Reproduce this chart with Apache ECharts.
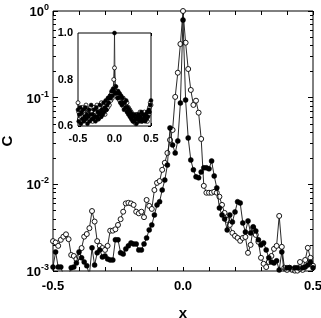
<!DOCTYPE html>
<html>
<head>
<meta charset="utf-8">
<script src="https://cdn.jsdelivr.net/npm/echarts@6/dist/echarts.min.js"></script>
<style>
html,body{margin:0;padding:0;background:#fff;}
#c{width:321px;height:318px;}
</style>
</head>
<body>
<div id="c"></div>
<script>
// x grid: -0.50 ... 0.50 step 0.01
const X = Array.from({length: 101}, (_, i) => +((i - 50) / 100).toFixed(2));

// main panel, open circles
const openMain = [
0.00221,0.00213,0.00195,0.00229,0.00249,0.00265,0.00233,0.00153,0.00149,0.00137,
0.00146,0.00184,0.00249,0.00267,0.00312,0.00492,0.00372,0.00221,0.00195,0.00184,
0.00175,0.00195,0.00292,0.00292,0.00303,0.00340,0.00396,0.00483,0.00602,0.00612,
0.00602,0.00579,0.00483,0.00463,0.00483,0.00418,0.0066,0.00564,0.0052,0.0086,
0.0104,0.0109,0.0147,0.0177,0.0230,0.0325,0.0424,0.102,0.194,0.416,
1.0,
0.431,0.214,0.1227,0.0824,0.0923,0.0671,0.0334,0.0096,0.0080,0.0080,
0.0080,0.0082,0.0080,0.0072,0.00579,0.00468,0.00389,0.00340,0.00275,0.00254,
0.00241,0.00223,0.00241,0.00247,0.00162,0.00200,0.00314,0.00261,0.00217,0.00142,
0.00121,0.00111,0.00127,0.00149,0.00180,0.00195,0.00432,0.00190,0.00109,0.00103,
0.00109,0.00103,0.00101,0.00101,0.00127,0.00103,0.00134,0.00185,0.00142,0.00115
];

// main panel, filled circles (values below 1e-3 fall off the axis)
const filledMain = [
0.00111,0.00166,0.00111,0.00111,0.0009,0.0009,0.0009,0.00109,0.00111,0.00124,
0.00166,0.00142,0.00127,0.00115,0.0009,0.00185,0.00117,0.00162,0.00175,0.00145,
0.00149,0.00138,0.00134,0.00134,0.00229,0.00229,0.00162,0.00157,0.00180,0.00195,
0.00211,0.00205,0.00205,0.00175,0.00175,0.00205,0.00241,0.00298,0.00340,0.00444,
0.00579,0.0063,0.0086,0.0112,0.0167,0.0448,0.0285,0.0230,0.0317,0.0869,
0.787,
0.0941,0.0343,0.0191,0.0147,0.0122,0.0119,0.0139,0.0155,0.0155,0.0151,
0.0186,0.0125,0.0091,0.00534,0.00444,0.00399,0.00298,0.00444,0.00368,0.00481,
0.0063,0.0061,0.00359,0.00282,0.00378,0.00275,0.00323,0.00290,0.00229,0.00200,
0.00211,0.00175,0.00142,0.00127,0.00124,0.00131,0.00103,0.00166,0.0009,0.00109,
0.00109,0.0009,0.00109,0.00109,0.0009,0.00109,0.00111,0.00117,0.00127,0.00109
];

// inset, open circles
const openInset = [
0.70,0.66,0.63,0.67,0.64,0.62,0.68,0.64,0.66,0.63,
0.65,0.69,0.64,0.62,0.67,0.65,0.63,0.68,0.64,0.66,
0.62,0.65,0.68,0.63,0.66,0.64,0.69,0.65,0.63,0.68,
0.66,0.64,0.70,0.65,0.67,0.66,0.69,0.65,0.70,0.67,
0.71,0.68,0.72,0.69,0.73,0.71,0.74,0.72,0.75,0.80,
0.85,
0.77,0.75,0.73,0.75,0.72,0.74,0.71,0.73,0.70,0.72,
0.69,0.72,0.68,0.71,0.69,0.68,0.70,0.66,0.68,0.65,
0.67,0.64,0.66,0.63,0.65,0.62,0.64,0.63,0.61,0.64,
0.65,0.62,0.64,0.63,0.66,0.64,0.62,0.65,0.63,0.64,
0.66,0.63,0.65,0.64,0.62,0.66,0.65,0.68,0.70,0.69
];

// inset, filled circles
const filledInset = [
0.67,0.62,0.65,0.68,0.61,0.66,0.63,0.67,0.62,0.64,
0.68,0.63,0.65,0.61,0.64,0.67,0.62,0.65,0.69,0.63,
0.65,0.63,0.67,0.64,0.62,0.68,0.64,0.66,0.63,0.65,
0.69,0.66,0.64,0.67,0.65,0.70,0.66,0.68,0.71,0.67,
0.69,0.72,0.70,0.72,0.73,0.72,0.75,0.73,0.76,0.75,
1.00,
0.74,0.77,0.74,0.72,0.75,0.72,0.74,0.70,0.73,0.69,
0.72,0.70,0.67,0.70,0.68,0.71,0.66,0.68,0.65,0.67,
0.64,0.66,0.63,0.65,0.62,0.64,0.62,0.65,0.63,0.61,
0.64,0.63,0.65,0.62,0.64,0.63,0.66,0.62,0.65,0.63,
0.64,0.62,0.65,0.63,0.66,0.64,0.67,0.66,0.69,0.71
];

const mainXLabels = [-0.5, 0.0, 0.5];
const insetXLabels = [-0.5, 0.0, 0.5];
const insetYLabels = [0.6, 0.8, 1.0];

// log minor tick positions (in log10 units)
const minorLog = [];
for (let e = -3; e < 0; e++) for (let k = 2; k <= 9; k++) minorLog.push(Math.log10(k) + e);

const FONT = "'Liberation Sans', Arial, Helvetica, sans-serif";
const pair = (ys) => X.map((x, i) => [x, ys[i]]);
const has = (arr, v) => arr.some(a => Math.abs(a - v) < 1e-6);

const chart = echarts.init(document.getElementById('c'), null, {renderer: 'canvas'});

const tickX = (len) => ({show: true, inside: true, length: len, lineStyle: {color: '#000', width: 1}});
const noLine = {show: false, onZero: false};

chart.setOption({
  animation: false,
  backgroundColor: '#fff',
  grid: [
    {left: 53, top: 11, width: 260, height: 260, show: true, borderColor: '#000', borderWidth: 1,
     backgroundColor: 'transparent', containLabel: false, outerBoundsMode: 'none'},
    {left: 78, top: 33, width: 73, height: 93, show: true, borderColor: '#000', borderWidth: 1,
     backgroundColor: '#fff', z: 5, containLabel: false, outerBoundsMode: 'none'}
  ],
  xAxis: [
    {gridIndex: 0, type: 'value', min: -0.5, max: 0.5, interval: 0.1, position: 'bottom',
     axisLine: noLine, splitLine: {show: false}, axisTick: tickX(4),
     axisLabel: {color: '#000', fontFamily: FONT, fontWeight: 'bold', fontSize: 13, margin: 9,
       formatter: v => has(mainXLabels, v) ? (Math.abs(v) < 1e-9 ? '0.0' : v.toFixed(1)) : ''},
     name: 'x', nameLocation: 'middle', nameGap: 35,
     nameTextStyle: {color: '#000', fontFamily: FONT, fontWeight: 'bold', fontSize: 15}},
    {gridIndex: 0, type: 'value', min: -0.5, max: 0.5, interval: 0.1, position: 'top',
     axisLine: noLine, splitLine: {show: false}, axisTick: tickX(4), axisLabel: {show: false}},
    {gridIndex: 1, type: 'value', min: -0.5, max: 0.5, interval: 0.1, position: 'bottom',
     axisLine: noLine, splitLine: {show: false}, axisTick: tickX(3),
     axisLabel: {color: '#000', fontFamily: FONT, fontWeight: 'bold', fontSize: 11, margin: 7,
       formatter: v => has(insetXLabels, v) ? (Math.abs(v) < 1e-9 ? '0.0' : v.toFixed(1)) : ''}},
    {gridIndex: 1, type: 'value', min: -0.5, max: 0.5, interval: 0.1, position: 'top',
     axisLine: noLine, splitLine: {show: false}, axisTick: tickX(3), axisLabel: {show: false}}
  ],
  yAxis: [
    {gridIndex: 0, type: 'log', logBase: 10, min: 0.001, max: 1, position: 'left',
     axisLine: noLine, splitLine: {show: false}, minorTick: {show: false}, axisTick: tickX(5),
     axisLabel: {margin: 4, formatter: v => '{b|10}{s|' + Math.round(Math.log10(v)) + '}',
       rich: {
         b: {color: '#000', fontFamily: FONT, fontWeight: 'bold', fontSize: 13, lineHeight: 16, verticalAlign: 'bottom'},
         s: {color: '#000', fontFamily: FONT, fontWeight: 'bold', fontSize: 9, lineHeight: 10, verticalAlign: 'top'}
       }},
     name: 'C', nameLocation: 'middle', nameGap: 33,
     nameTextStyle: {color: '#000', fontFamily: FONT, fontWeight: 'bold', fontSize: 15}},
    {gridIndex: 0, type: 'log', logBase: 10, min: 0.001, max: 1, position: 'right',
     axisLine: noLine, splitLine: {show: false}, minorTick: {show: false}, axisTick: tickX(5), axisLabel: {show: false}},
    {gridIndex: 0, type: 'value', min: -3, max: 0, position: 'left', offset: 0,
     axisLine: noLine, splitLine: {show: false},
     axisTick: {show: true, inside: true, length: 3, customValues: minorLog, lineStyle: {color: '#000', width: 1}},
     axisLabel: {show: false}},
    {gridIndex: 0, type: 'value', min: -3, max: 0, position: 'right', offset: 0,
     axisLine: noLine, splitLine: {show: false},
     axisTick: {show: true, inside: true, length: 3, customValues: minorLog, lineStyle: {color: '#000', width: 1}},
     axisLabel: {show: false}},
    {gridIndex: 1, type: 'value', min: 0.6, max: 1.0, interval: 0.1, position: 'left',
     axisLine: noLine, splitLine: {show: false}, axisTick: tickX(3),
     axisLabel: {color: '#000', fontFamily: FONT, fontWeight: 'bold', fontSize: 11, margin: 5,
       formatter: v => has(insetYLabels, v) ? v.toFixed(1) : ''}},
    {gridIndex: 1, type: 'value', min: 0.6, max: 1.0, interval: 0.1, position: 'right',
     axisLine: noLine, splitLine: {show: false}, axisTick: tickX(3), axisLabel: {show: false}}
  ],
  series: [
    {type: 'line', xAxisIndex: 0, yAxisIndex: 0, data: pair(openMain), clip: false,
     symbol: 'circle', symbolSize: 5, showAllSymbol: true,
     lineStyle: {color: '#111', width: 0.9},
     itemStyle: {color: '#fff', borderColor: '#000', borderWidth: 0.9}, z: 2},
    {type: 'line', xAxisIndex: 0, yAxisIndex: 0, data: pair(filledMain), clip: true,
     symbol: 'circle', symbolSize: 5, showAllSymbol: true,
     lineStyle: {color: '#111', width: 0.9},
     itemStyle: {color: '#000', borderColor: '#000', borderWidth: 0.5}, z: 3},
    {type: 'line', xAxisIndex: 2, yAxisIndex: 4, data: pair(openInset), clip: false,
     symbol: 'circle', symbolSize: 4, showAllSymbol: true,
     lineStyle: {color: '#111', width: 0.7},
     itemStyle: {color: '#fff', borderColor: '#000', borderWidth: 0.8}, z: 6},
    {type: 'line', xAxisIndex: 2, yAxisIndex: 4, data: pair(filledInset), clip: false,
     symbol: 'circle', symbolSize: 4, showAllSymbol: true,
     lineStyle: {color: '#111', width: 0.7},
     itemStyle: {color: '#000', borderColor: '#000', borderWidth: 0.5}, z: 6}
  ]
});
</script>
</body>
</html>
